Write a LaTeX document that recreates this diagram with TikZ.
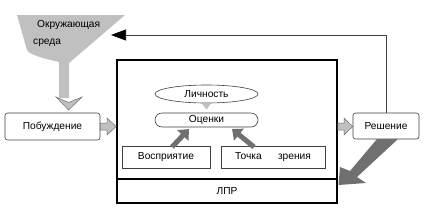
\documentclass[tikz,border=0pt]{standalone}
\usepackage{fontspec}
\setmainfont{Liberation Sans}
\usetikzlibrary{shapes.geometric,arrows.meta}
\definecolor{lgray}{HTML}{C0C0C0}
\definecolor{dgray}{HTML}{707070}
\definecolor{edge}{HTML}{404040}
\begin{document}
\begin{tikzpicture}[x=1pt,y=-1pt,
  every node/.style={font=\fontsize{10.2}{12}\selectfont, text=black},
  rbox/.style={draw=edge, fill=white, line width=0.6pt, rounded corners=2.5pt, inner sep=0pt},
  sbox/.style={draw=edge, fill=white, line width=0.6pt, inner sep=0pt},
  thick box/.style={draw=black, line width=1.6pt, inner sep=0pt},
  lightarrow/.style={fill=lgray, draw=dgray, line width=0.5pt},
  darkarrow/.style={draw=dgray, line width=5pt, -{Triangle[width=15pt,length=9pt]}}
]
\useasboundingbox (0,0) rectangle (438,218);

% frames
\node[thick box, minimum width=220, minimum height=119] (frame) at (227,119.5) {};
\node[thick box, minimum width=220, minimum height=24] (lpr) at (227,191) {ЛПР};

% environment funnel
\fill[lgray] (17,15) -- (125,15) -- (69,63) -- (69,98) -- (59,98) -- (59,62)
  .. controls (42,58) and (30,55) .. (27,50) -- cycle;
\node[anchor=west, inner sep=0pt] (env1) at (37,25) {Окружающая};
\node[anchor=west, inner sep=0pt] (env2) at (33,43) {среда};
\coordinate (fb) at (111,35);

% left / right boxes
\node[rbox, minimum width=95, minimum height=27] (pob) at (52.5,126.5) {Побуждение};
\node[rbox, minimum width=66, minimum height=26] (resh) at (386,126) {Решение};

% chevron from environment to Побуждение
\filldraw[lightarrow] (56,97) -- (68.5,102.5) -- (82,97) -- (68.5,110) -- cycle;

% inner nodes
\node[ellipse, draw=edge, fill=white, line width=0.6pt, minimum width=103, minimum height=18, inner sep=0pt] (lich) at (206.5,94) {Личность};
\node[draw=edge, fill=white, line width=0.6pt, rounded corners=7pt, minimum width=103, minimum height=14, inner sep=0pt] (ocen) at (206.5,120) {Оценки};
\node[sbox, minimum width=88, minimum height=22] (vosp) at (166,157) {Восприятие};
\node[sbox, minimum width=104, minimum height=22] (tochka) at (273,157) {Точка\hspace{1.6em}зрения};

% Личность -> Оценки
\fill[lgray] (202,103.5) -- (211,103.5) -- (206.5,109.5) -- cycle;

% Восприятие / Точка -> Оценки
\draw[darkarrow] (172,147) -- (189,129);
\draw[darkarrow] (254,147) -- (232,129);

% Побуждение -> frame
\filldraw[lightarrow] (pob.east |- 0,123) -- (107,123) -- (107,118) -- (frame.west |- 0,126.5)
  -- (107,135) -- (107,130) -- (pob.east |- 0,130) -- cycle;

% frame -> Решение
\filldraw[lightarrow] (frame.east |- 0,123) -- (344,123) -- (344,118) -- (resh.west |- 0,126.5)
  -- (344,135) -- (344,130) -- (frame.east |- 0,130) -- cycle;

% Решение -> ЛПР (big dark arrow)
\fill[dgray] (377,139) -- (398,139) -- (357,177) -- (366,183) -- (338.5,185)
  -- (340,167) -- (350,171) -- cycle;

% feedback
\draw[edge, line width=0.6pt, -{Triangle[length=15pt,width=11pt,fill=black,color=black]}] (resh.north) |- (fb);
\end{tikzpicture}
\end{document}
